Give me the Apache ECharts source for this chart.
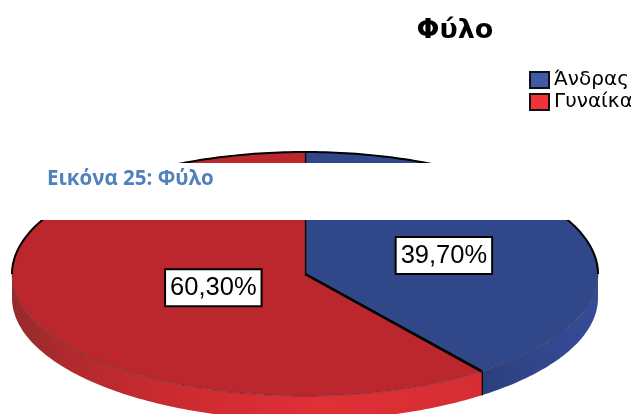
<!DOCTYPE html>
<html><head><meta charset="utf-8">
<style>html,body{margin:0;padding:0;background:#fff}#c{width:631px;height:414px}</style>
<script src="https://cdn.jsdelivr.net/npm/echarts@6/dist/echarts.min.js"></script>
</head><body><div id="c"></div>
<script>
const categories = ['Άνδρας', 'Γυναίκα'];
const values = [39.7, 60.3];
const tickLabels = ['39,70%', '60,30%'];
const chartTitle = 'Φύλο';
const caption = 'Εικόνα 25: Φύλο';
const legendColors = ['#3f5aa8', '#f0323a'];
const topColors = ['#30478a', '#bb272c'];
const labelRadius = [0.5, 0.33];
const wallStops = [
  [[0, '#364b96'], [0.4, '#334790'], [1, '#2c3f7c']],
  [[0, '#962a2c'], [0.12, '#b02a2d'], [0.35, '#cc2b30'], [0.65, '#e03036'], [1, '#d62e33']]
];
const cx = 305, cy = 274, rx = 293, ry = 122, depth = 24;
const total = values.reduce((a, b) => a + b, 0);

function pt(deg, dy) {
  const a = deg * Math.PI / 180;
  return [cx + rx * Math.sin(a), cy - ry * Math.cos(a) + (dy || 0)];
}
function arc(a0, a1, dy) {
  const out = [];
  const n = Math.max(2, Math.ceil(Math.abs(a1 - a0)));
  for (let i = 0; i <= n; i++) out.push(pt(a0 + (a1 - a0) * i / n, dy));
  return out;
}
function makeRender(idx) {
  return function (params, api) {
    const before = values.slice(0, idx).reduce((a, b) => a + b, 0);
    const a0 = before / total * 360;
    const a1 = (before + api.value(0)) / total * 360;
    const ch = [];
    const w0 = Math.max(a0, 90), w1 = Math.min(a1, 270);
    if (w1 > w0) {
      const upper = arc(w0, w1, 0), lower = arc(w1, w0, depth);
      const xs = upper.map(p => p[0]);
      ch.push({
        type: 'polygon', shape: { points: upper.concat(lower) },
        style: {
          fill: new echarts.graphic.LinearGradient(
            idx === 0 ? Math.max(...xs) : Math.min(...xs), 0,
            idx === 0 ? Math.min(...xs) : Math.max(...xs), 0,
            wallStops[idx].map(s => ({ offset: s[0], color: s[1] })), true)
        }
      });
    }
    ch.push({
      type: 'polygon',
      shape: { points: [[cx, cy]].concat(arc(a0, a1, 0)) },
      style: { fill: topColors[idx], stroke: '#3a2a30', lineWidth: 0.5 }
    });
    const b0 = idx === 0 ? a0 : 270, b1 = idx === 0 ? 90 : a1;
    ch.push({
      type: 'polyline', shape: { points: arc(b0, b1, 0) },
      style: { fill: null, stroke: '#000', lineWidth: 2 }
    });
    ch.push({
      type: 'polyline', shape: { points: [[cx, cy], pt(a0, 0)] },
      style: { fill: null, stroke: '#000', lineWidth: 2.5 }
    });
    if (idx === 0) {
      ch.push({
        type: 'polyline', shape: { points: [pt(a1, 0), [cx, cy]] },
        style: { fill: null, stroke: '#000', lineWidth: 2.5 }
      });
      ch.push({
        type: 'polyline', shape: { points: [pt(a1, 0), pt(a1, depth)] },
        style: { fill: null, stroke: '#000', lineWidth: 2.5 }
      });
    }
    return { type: 'group', children: ch };
  };
}
function makeLabelRender(idx) {
  return function (params, api) {
    const before = values.slice(0, idx).reduce((a, b) => a + b, 0);
    const mid = (before + api.value(0) / 2) / total * 360 * Math.PI / 180;
    const f = labelRadius[idx];
    return {
      type: 'text', z2: 100,
      x: cx + rx * f * Math.sin(mid), y: cy - ry * f * Math.cos(mid) + 1,
      style: {
        text: tickLabels[idx], align: 'center', verticalAlign: 'middle',
        fontFamily: 'Liberation Sans', fontSize: 25.5, fill: '#000',
        backgroundColor: '#fff', borderColor: '#000', borderWidth: 2,
        padding: [6, 4, 3, 4]
      }
    };
  };
}
const series = [];
categories.forEach((name, i) => {
  series.push({
    type: 'custom', name, coordinateSystem: 'none', z: 2, animation: false,
    itemStyle: { color: legendColors[i] },
    renderItem: makeRender(i), data: [[values[i]]]
  });
});
categories.forEach((name, i) => {
  series.push({
    type: 'custom', name: name + ' label', coordinateSystem: 'none', z: 3, animation: false,
    renderItem: makeLabelRender(i), data: [[values[i]]]
  });
});
const chart = echarts.init(document.getElementById('c'), null, { renderer: 'canvas' });
chart.setOption({
  animation: false,
  backgroundColor: '#fff',
  title: {
    text: chartTitle, left: 450, top: 12, textAlign: 'center',
    textStyle: { fontFamily: 'DejaVu Sans', fontWeight: 'bold', fontSize: 27, color: '#000' }
  },
  legend: {
    data: categories, orient: 'vertical', left: 529, top: 70,
    itemWidth: 19, itemHeight: 16, itemGap: 2, padding: 0,
    icon: 'rect', selectedMode: false,
    itemStyle: { borderColor: '#111', borderWidth: 2 },
    textStyle: { fontFamily: 'DejaVu Sans', fontSize: 20, color: '#000', padding: [0, 0, 6, 0] }
  },
  graphic: [
    { type: 'rect', z: 50, shape: { x: 0, y: 163, width: 631, height: 57 }, style: { fill: '#fff' } },
    { type: 'text', z: 51, x: 47, y: 169, style: {
        text: caption, fill: '#4f81bd', fontFamily: 'Open Sans', fontWeight: 'bold', fontSize: 20.5 } }
  ],
  series
});
</script></body></html>
